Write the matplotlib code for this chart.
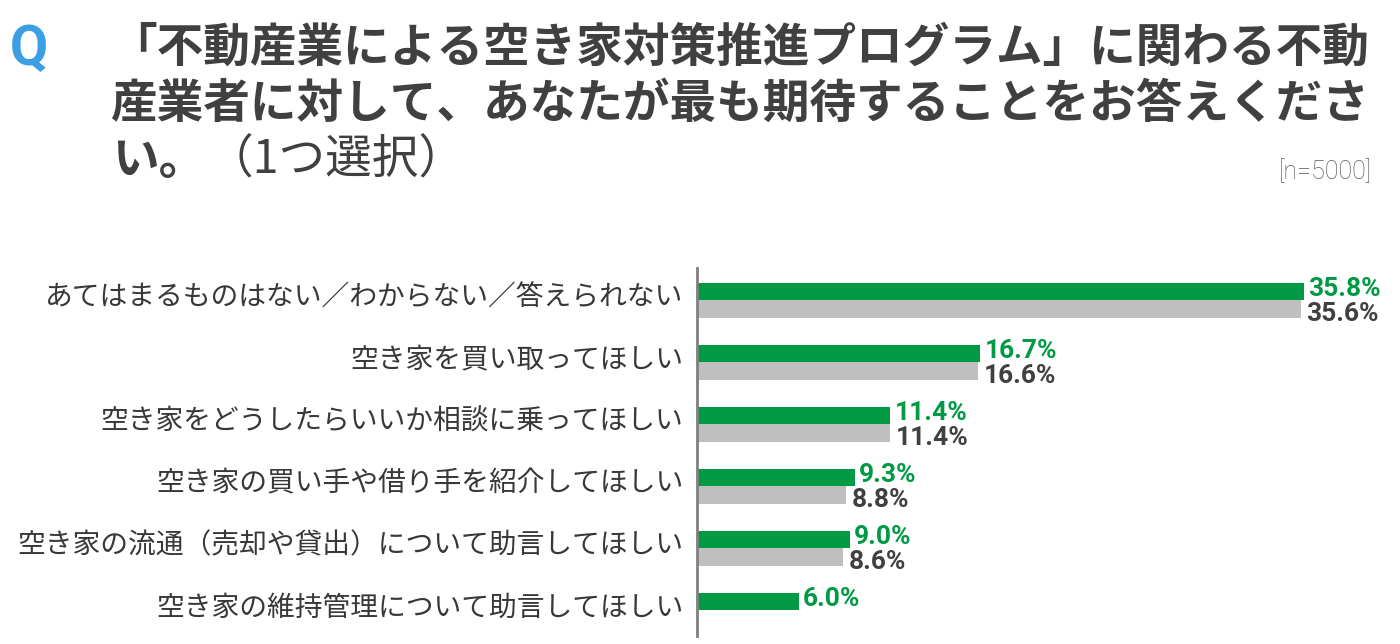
import matplotlib
matplotlib.use("Agg")
import matplotlib.pyplot as plt
import numpy as np

plt.rcParams["font.family"] = ["Noto Sans CJK JP", "DejaVu Sans"]

# ── data ────────────────────────────────────────────────────────────────
categories = [
    "あてはまるものはない／わからない／答えられない",
    "空き家を買い取ってほしい",
    "空き家をどうしたらいいか相談に乗ってほしい",
    "空き家の買い手や借り手を紹介してほしい",
    "空き家の流通（売却や貸出）について助言してほしい",
    "空き家の維持管理について助言してほしい",
]
current = [35.8, 16.7, 11.4, 9.3, 9.0, 6.0]
previous = [35.6, 16.6, 11.4, 8.8, 8.6, np.nan]

GREEN = "#009a44"
GRAY_BAR = "#bfbfbf"
DARK = "#404040"
BLUE = "#3d9fe3"

W, H = 1400, 644
fig = plt.figure(figsize=(W / 100, H / 100), dpi=100)

# ── title ───────────────────────────────────────────────────────────────
fig.text(10 / W, 1 - 50 / H, "Q", color=BLUE, fontsize=40, fontweight="bold",
         family=["Roboto", "DejaVu Sans"], va="center", ha="left")
title_lines = [
    "「不動産業による空き家対策推進プログラム」に関わる不動",
    "産業者に対して、あなたが最も期待することをお答えくださ",
]
TS = 33.6
for k, line in enumerate(title_lines):
    fig.text(110 / W, 1 - (48 + 56 * k) / H, line, color=DARK, fontsize=TS,
             fontweight="bold", va="center", ha="left")
fig.text(112 / W, 1 - 160 / H, "い。", color=DARK, fontsize=TS,
         fontweight="bold", va="center", ha="left")
fig.text(207 / W, 1 - 160 / H, "（1つ選択）", color=DARK, fontsize=TS,
         fontweight="normal", va="center", ha="left")
fig.text(1372 / W, 1 - 172 / H, "[n=5000]", color="#5a5a5a", fontsize=18,
         family=["Roboto", "DejaVu Sans"], fontweight="light",
         va="center", ha="right")

# ── bars ────────────────────────────────────────────────────────────────
ax_left, ax_right = 697, 1395
ax_top, ax_bot = 268, 636
ax = fig.add_axes([ax_left / W, 1 - ax_bot / H,
                   (ax_right - ax_left) / W, (ax_bot - ax_top) / H])

px_per_pct = (1304 - 697) / 35.8
ax.set_xlim(0, (ax_right - ax_left) / px_per_pct)
row_px = 62
ax.set_ylim(5 + (ax_bot - 610) / row_px, -(300 - ax_top) / row_px)

y = np.arange(len(categories))
bh = 17.5 / row_px
ax.barh(y - bh / 2, current, height=bh, color=GREEN)
ax.barh(y + bh / 2, previous, height=bh, color=GRAY_BAR)

val_font = dict(family=["Roboto", "DejaVu Sans"], fontweight="bold", fontsize=19)
for i, (c, p) in enumerate(zip(current, previous)):
    ax.annotate(f"{c:.1f}%", (c, i + 0.02), xytext=(3, 0),
                textcoords="offset points", va="bottom", ha="left",
                color=GREEN, **val_font)
    if not np.isnan(p):
        ax.annotate(f"{p:.1f}%", (p, i + 0.03), xytext=(4, 0),
                    textcoords="offset points", va="top", ha="left",
                    color=DARK, **val_font)

ax.set_yticks(y - 0.1)
ax.set_yticklabels(categories, fontsize=20, color="#383838")
ax.tick_params(axis="y", length=0, pad=10)
ax.set_xticks([])
for side in ["top", "right", "bottom"]:
    ax.spines[side].set_visible(False)
ax.spines["left"].set_color("#7f7f7f")
ax.spines["left"].set_linewidth(2)

fig.savefig("out.png", dpi=100)
